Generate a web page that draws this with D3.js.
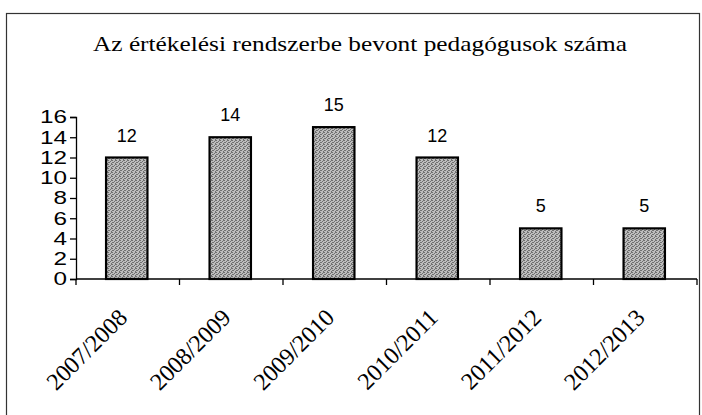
<!DOCTYPE html>
<html>
<head>
<meta charset="utf-8">
<script src="https://cdn.jsdelivr.net/npm/d3@7"></script>
</head>
<body style="margin:0">
<div id="chart"></div>
<script>
var chartTitle = "Az értékelési rendszerbe bevont pedagógusok száma";
var years = ["2007/2008", "2008/2009", "2009/2010", "2010/2011", "2011/2012", "2012/2013"];
var counts = [12, 14, 15, 12, 5, 5];
var yTicks = [0, 2, 4, 6, 8, 10, 12, 14, 16];

var width = 702, height = 415;
var margin = {top: 117, right: 5, bottom: 136, left: 76};
var serifFont = "Liberation Serif";
var sansFont = "Liberation Sans";

var svg = d3.select("#chart").append("svg")
    .attr("width", width)
    .attr("height", height)
    .style("display", "block");

// stippled grey fill for the bars
var defs = svg.append("defs");
var pat = defs.append("pattern")
    .attr("id", "stipple")
    .attr("width", 4).attr("height", 4)
    .attr("patternUnits", "userSpaceOnUse");
pat.append("rect").attr("width", 4).attr("height", 4).attr("fill", "#bdbdbd");
[[0, 0], [2, 1], [1, 2], [3, 3], [3, 0], [0, 2]].forEach(function(p) {
    pat.append("rect").attr("x", p[0]).attr("y", p[1])
        .attr("width", 1).attr("height", 1).attr("fill", "#707070");
});

// outer frame (cut off at right/bottom like the scan)
svg.append("rect")
    .attr("x", 6.5).attr("y", 13.5)
    .attr("width", 693).attr("height", 430)
    .attr("fill", "none")
    .attr("stroke", "#333")
    .attr("stroke-width", 1.2);

svg.append("text")
    .attr("x", 360).attr("y", 51)
    .attr("text-anchor", "middle")
    .style("font-family", serifFont)
    .style("font-size", "22px")
    .attr("textLength", 534)
    .attr("lengthAdjust", "spacingAndGlyphs")
    .attr("fill", "#000")
    .text(chartTitle);

var x = d3.scaleBand()
    .domain(years)
    .range([margin.left, 697])
    .paddingInner(0.6)
    .paddingOuter(0.3);

var y = d3.scaleLinear()
    .domain([0, 16])
    .range([279, margin.top]);

// bars
svg.selectAll(".bar")
    .data(counts)
    .enter().append("rect")
    .attr("class", "bar")
    .attr("x", (d, i) => x(years[i]) - 1)
    .attr("y", d => y(d))
    .attr("width", x.bandwidth())
    .attr("height", d => y(0) - y(d))
    .attr("fill", "url(#stipple)")
    .attr("stroke", "#000")
    .attr("stroke-width", 2.2);

// value labels
svg.selectAll(".val")
    .data(counts)
    .enter().append("text")
    .attr("class", "val")
    .attr("x", (d, i) => x(years[i]) + x.bandwidth() / 2 - 1)
    .attr("y", d => y(d) - 16)
    .attr("text-anchor", "middle")
    .style("font-family", sansFont)
    .style("font-size", "18px")
    .text(d => d);

// y axis
var ySx = 1.35;
var yAxis = d3.axisLeft(y).tickValues(yTicks).tickSize(6).tickPadding(3);
svg.append("g")
    .attr("transform", "translate(" + margin.left + ",0)")
    .call(yAxis)
    .call(g => g.selectAll("text")
        .attr("x", -9 / ySx)
        .attr("transform", "scale(" + ySx + ",1)")
        .style("font-family", sansFont)
        .style("font-size", "18px")
        .attr("fill", "#000"))
    .call(g => g.selectAll("line, path").attr("stroke", "#000").attr("stroke-width", 1.3));

// x axis: ticks at category boundaries
var step = x.step();
var x0 = margin.left;
var bounds = d3.range(years.length + 1).map(i => x0 + i * step);
var xg = svg.append("g").attr("class", "xaxis");
xg.append("line")
    .attr("x1", x0).attr("x2", bounds[bounds.length - 1])
    .attr("y1", y(0)).attr("y2", y(0))
    .attr("stroke", "#000").attr("stroke-width", 1.3);
xg.selectAll(".tick")
    .data(bounds)
    .enter().append("line")
    .attr("x1", d => d).attr("x2", d => d)
    .attr("y1", y(0)).attr("y2", y(0) + 6)
    .attr("stroke", "#000").attr("stroke-width", 1.3);

xg.selectAll(".lbl")
    .data(years)
    .enter().append("text")
    .attr("class", "lbl")
    .attr("transform", d => "translate(" + (x(d) + x.bandwidth() / 2 + 1) + "," + (y(0) + 40) + ") rotate(-45)")
    .attr("text-anchor", "end")
    .style("font-family", serifFont)
    .style("font-size", "24px")
    .attr("fill", "#000")
    .text(d => d);
</script>
</body>
</html>
